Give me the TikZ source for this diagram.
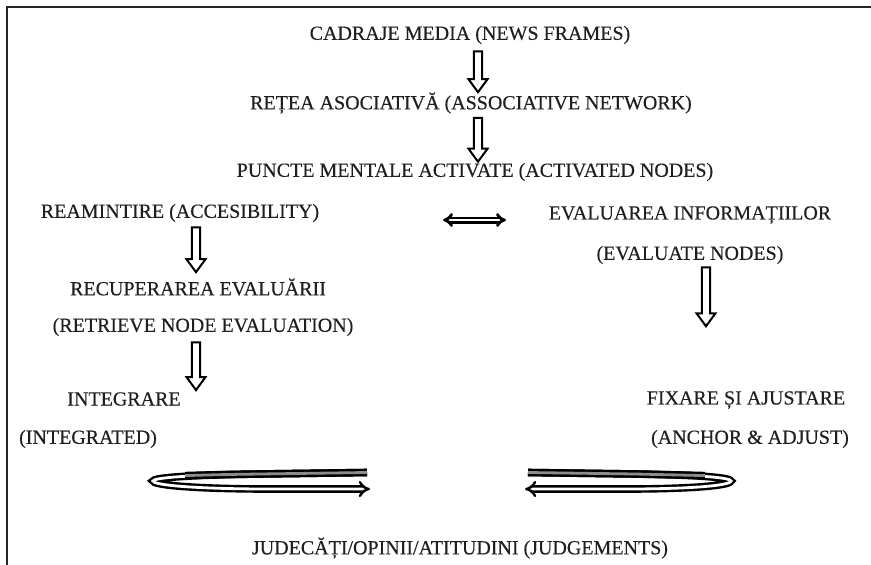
\documentclass[tikz,border=0pt]{standalone}
\usepackage{fontspec}
\setmainfont{Liberation Serif}
\newfontfamily\lblfont{Liberation Serif}[FakeBold=0.3]
\usetikzlibrary{arrows.meta,calc}
\begin{document}
\begin{tikzpicture}[x=1pt,y=-1pt,
  lbl/.style={inner sep=0pt, text=black!88, font=\lblfont\fontsize{20}{24}\selectfont},
  downarrow/.style={draw, fill=white, line width=2pt, line join=miter,
    to path={let \p1=(\tikztostart), \p2=(\tikztotarget) in
      (\x1-4.2pt,\y1) -- (\x1-4.2pt,\y2+13pt) -- (\x1-9.5pt,\y2+13pt) -- (\x1,\y2)
      -- (\x1+9.5pt,\y2+13pt) -- (\x1+4.2pt,\y2+13pt) -- (\x1+4.2pt,\y1) -- cycle}},
  hollowlr/.style={double, double distance=1.4pt, line width=2.8pt, {Implies}-{Implies}},
  hair/.style={double, double distance=2.8pt, line width=2.4pt},
]
\useasboundingbox (0,0) rectangle (871,565);
\draw[line width=1.5pt, black!85] (7,565) -- (7,7) -- (871,7);

\node[lbl] (cadraje) at (470,35) {CADRAJE MEDIA (NEWS FRAMES)};
\node[lbl] (retea) at (471,103) {REȚEA ASOCIATIVĂ (ASSOCIATIVE NETWORK)};
\node[lbl] (puncte) at (475,172) {PUNCTE MENTALE ACTIVATE (ACTIVATED NODES)};
\node[lbl] (reamintire) at (180,213) {REAMINTIRE (ACCESIBILITY)};
\node[lbl] (evalinfo) at (690,215) {EVALUAREA INFORMAȚIILOR};
\node[lbl] (evalnodes) at (690,255) {(EVALUATE NODES)};
\node[lbl] (recup) at (198,287) {RECUPERAREA EVALUĂRII};
\node[lbl] (retrieve) at (203,327) {(RETRIEVE NODE EVALUATION)};
\node[lbl] (integrare) at (124,399) {INTEGRARE};
\node[lbl] (integrated) at (88,439) {(INTEGRATED)};
\node[lbl] (fixare) at (746,400) {FIXARE ȘI AJUSTARE};
\node[lbl] (anchor) at (750,439) {(ANCHOR \& ADJUST)};
\node[lbl] (judge) at (460,548) {JUDECĂȚI/OPINII/ATITUDINI (JUDGEMENTS)};

\draw[downarrow] ([xshift=8pt,yshift=-7pt]cadraje.south) to ([xshift=7pt]retea.north);
\draw[downarrow] ([xshift=7pt,yshift=-4pt]retea.south) to ([xshift=3pt,yshift=1pt]puncte.north);
\draw[downarrow] ([xshift=16pt,yshift=-5pt]reamintire.south) to ([xshift=-2pt,yshift=6pt]recup.north);
\draw[downarrow] ([xshift=-7pt,yshift=-6pt]retrieve.south) to ([xshift=72pt,yshift=2pt]integrare.north);
\draw[downarrow] ([xshift=16pt,yshift=-3pt]evalnodes.south) to ([xshift=16pt,yshift=-62pt]evalnodes.south);

\coordinate (hl) at (443,220);
\coordinate (hr) at (506,220);
\draw[hollowlr] (hl) -- (hr);

% left hairpin
\draw[hair, -{Implies}] (367,472.5) -- (260,474) .. controls (185,475) and (153,478) .. (153,481)
  .. controls (153,484.5) and (185,488.5) .. (260,489) -- (370,489);
\draw[hair, double=black!45] (367,472.5) -- (260,474) .. controls (225,474.5) .. (185,475.6);
% right hairpin
\draw[hair, -{Implies}] (528,472.5) -- (635,474) .. controls (705,475) and (731,478) .. (731,481)
  .. controls (731,484.5) and (705,488.5) .. (635,489) -- (525,489);
\draw[hair, double=black!45] (528,472.5) -- (635,474) .. controls (670,474.5) .. (705,475.6);
\end{tikzpicture}
\end{document}
